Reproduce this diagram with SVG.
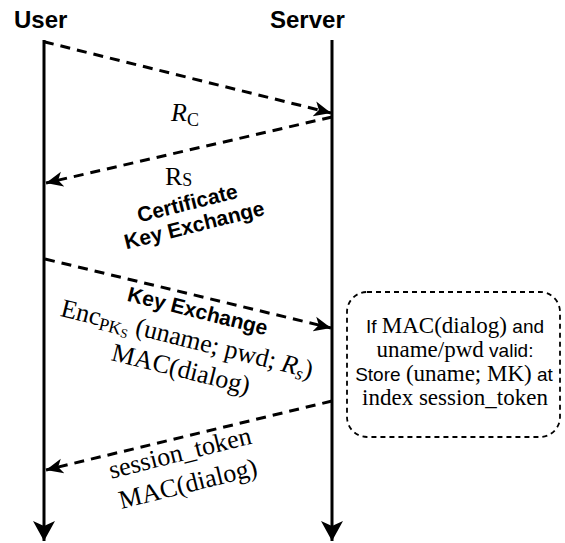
<svg xmlns="http://www.w3.org/2000/svg" width="565" height="543" viewBox="0 0 565 543">
  <style>
    .title { font-family: "Liberation Sans", Arial, sans-serif; font-weight: bold; font-size: 24px; fill: #000; }
    .bold { font-family: "Liberation Sans", Arial, sans-serif; font-weight: bold; font-size: 21px; fill: #000; }
    .serif { font-family: "Liberation Serif", "Times New Roman", serif; font-size: 26px; fill: #000; }
    .boxsans { font-family: "Liberation Sans", Arial, sans-serif; font-size: 19px; fill: #000; }
    .boxserif { font-family: "Liberation Serif", "Times New Roman", serif; font-size: 23px; }
    .life { stroke: #000; stroke-width: 3; fill: none; }
    .msg { stroke: #000; stroke-width: 3; fill: none; stroke-dasharray: 10 7; }
  </style>
  <defs>
    <marker id="head" markerUnits="userSpaceOnUse" markerWidth="20" markerHeight="18" refX="17" refY="9" orient="auto">
      <path d="M0,1.5 L17,9 L0,16.5 L4.5,9 Z" fill="#000"/>
    </marker>
    <marker id="lifehead" markerUnits="userSpaceOnUse" markerWidth="22" markerHeight="24" refX="20" refY="11" orient="auto">
      <path d="M0,0 L20,11 L0,22 L5,11 Z" fill="#000"/>
    </marker>
  </defs>

  <rect width="565" height="543" fill="#fff"/>

  <!-- participants -->
  <g id="user">
    <text class="title" x="14" y="28">User</text>
    <line class="life" x1="44" y1="40" x2="44" y2="541" marker-end="url(#lifehead)"/>
  </g>
  <g id="server">
    <text class="title" x="270" y="28">Server</text>
    <line class="life" x1="332" y1="40" x2="332" y2="541" marker-end="url(#lifehead)"/>
  </g>

  <!-- messages -->
  <g id="connectors">
    <path class="msg" d="M44,41.5 L45,42 L331,113" marker-end="url(#head)"/>
    <path class="msg" d="M332,117 L46,183" marker-end="url(#head)"/>
    <path class="msg" d="M45,259 L331,328" marker-end="url(#head)"/>
    <path class="msg" d="M332,401 L46,470" marker-end="url(#head)"/>
  </g>

  <!-- message labels -->
  <g id="label-rc">
    <text class="serif" x="171" y="121"><tspan font-style="italic">R</tspan><tspan font-size="18" dy="5">C</tspan></text>
  </g>
  <g id="label-rs">
    <text class="serif" x="165" y="185"><tspan>R</tspan><tspan font-size="18" dy="1">S</tspan></text>
    <text class="bold" text-anchor="middle" transform="translate(189,210) rotate(-14)">Certificate</text>
    <text class="bold" text-anchor="middle" transform="translate(196,232) rotate(-14)">Key Exchange</text>
  </g>
  <g id="label-login">
    <text class="bold" text-anchor="middle" transform="translate(196,318) rotate(14)">Key Exchange</text>
    <text class="serif" text-anchor="middle" transform="translate(185,347) rotate(14)">Enc<tspan font-size="18" dy="4">PK</tspan><tspan font-size="13" dy="2">S</tspan><tspan dy="-6"> (uname; pwd; </tspan><tspan font-style="italic">R</tspan><tspan font-style="italic" font-size="18" dy="4">s</tspan><tspan dy="-4">)</tspan></text>
    <text class="serif" text-anchor="middle" transform="translate(179,377) rotate(14)">MAC(dialog)</text>
  </g>
  <g id="label-token">
    <text class="serif" text-anchor="middle" transform="translate(182,461) rotate(-14)">session_token</text>
    <text class="serif" text-anchor="middle" transform="translate(190,492) rotate(-14)">MAC(dialog)</text>
  </g>

  <!-- server-side check -->
  <g id="store-box">
    <rect x="347" y="292" width="213" height="145" rx="20" ry="20" fill="none" stroke="#000" stroke-width="1.8" stroke-dasharray="5 4"/>
    <text class="boxsans" text-anchor="middle" x="455" y="333">If <tspan class="boxserif">MAC(dialog)</tspan> and</text>
    <text class="boxsans" text-anchor="middle" x="455" y="357"><tspan class="boxserif">uname/pwd</tspan> valid:</text>
    <text class="boxsans" text-anchor="middle" x="454" y="381">Store <tspan class="boxserif">(uname; MK)</tspan>  at</text>
    <text class="boxserif" text-anchor="middle" x="455" y="405">index session_token</text>
  </g>
</svg>
